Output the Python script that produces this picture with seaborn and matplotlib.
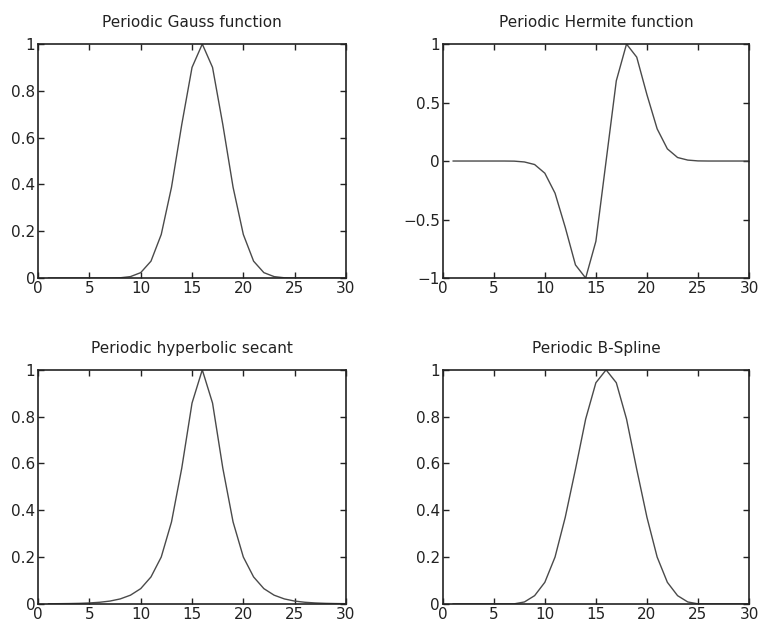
import pandas as pd
import matplotlib
matplotlib.use("Agg")
import matplotlib.pyplot as plt
import seaborn as sns
from matplotlib.ticker import FuncFormatter

# sample positions 1..30
x = list(range(1, 31))

# values (peaks at x=16)
gauss = [0, 0, 0, 0, 0, 0, 0, 0.001, 0.006, 0.023, 0.072, 0.186, 0.388, 0.656, 0.900,
         1.0, 0.900, 0.656, 0.388, 0.186, 0.072, 0.023, 0.006, 0.001, 0, 0, 0, 0, 0, 0]
hermite = [0, 0, 0, 0, 0, 0, -0.001, -0.008, -0.030, -0.104, -0.275, -0.567, -0.888, -1.0, -0.686,
           0.0, 0.686, 1.0, 0.888, 0.567, 0.275, 0.104, 0.030, 0.008, 0.001, 0, 0, 0, 0, 0]
sech = [0.0004, 0.0007, 0.0012, 0.0021, 0.0038, 0.0067, 0.0118, 0.021, 0.037, 0.065, 0.115,
        0.200, 0.350, 0.580, 0.858, 1.0, 0.858, 0.580, 0.350, 0.200, 0.115, 0.065, 0.037,
        0.021, 0.0118, 0.0067, 0.0038, 0.0021, 0.0012, 0.0007]
bspline = [0, 0, 0, 0, 0, 0, 0, 0.008, 0.035, 0.092, 0.200, 0.370, 0.575, 0.790, 0.945,
           1.0, 0.945, 0.790, 0.575, 0.370, 0.200, 0.092, 0.035, 0.008, 0, 0, 0, 0, 0, 0]

titles = ["Periodic Gauss function", "Periodic Hermite function",
          "Periodic hyperbolic secant", "Periodic B-Spline"]
series = [gauss, hermite, sech, bspline]
yticks = [[0, 0.2, 0.4, 0.6, 0.8, 1], [-1, -0.5, 0, 0.5, 1],
          [0, 0.2, 0.4, 0.6, 0.8, 1], [0, 0.2, 0.4, 0.6, 0.8, 1]]
ylims = [(0, 1), (-1, 1), (0, 1), (0, 1)]

sns.set_style("ticks")
plt.rcParams["font.family"] = ["DejaVu Sans"]
plt.rcParams["font.size"] = 11

fig = plt.figure(figsize=(7.62, 6.29), dpi=100)
positions = [[0.050, 0.558, 0.404, 0.372], [0.581, 0.558, 0.402, 0.372],
             [0.050, 0.040, 0.404, 0.372], [0.581, 0.040, 0.402, 0.372]]

fmt = FuncFormatter(lambda v, p: ("%g" % v).replace("-", "\u2212"))

for pos, title, vals, yt, yl in zip(positions, titles, series, yticks, ylims):
    ax = fig.add_axes(pos)
    df = pd.DataFrame({"x": x, "y": vals})
    sns.lineplot(data=df, x="x", y="y", ax=ax, color="#4a4a4a", linewidth=1.0)
    ax.set_xlim(0, 30)
    ax.set_ylim(*yl)
    ax.set_xticks([0, 5, 10, 15, 20, 25, 30])
    ax.set_yticks(yt)
    ax.xaxis.set_major_formatter(fmt)
    ax.yaxis.set_major_formatter(fmt)
    ax.set_xlabel("")
    ax.set_ylabel("")
    ax.set_title(title, fontsize=11, pad=12, color="#222222")
    for s in ax.spines.values():
        s.set_visible(True)
        s.set_linewidth(1.2)
        s.set_color("#222222")
    ax.tick_params(direction="in", top=True, right=True, length=4, width=1,
                   pad=2, labelsize=11, colors="#222222")

fig.savefig("out.png", dpi=100)
